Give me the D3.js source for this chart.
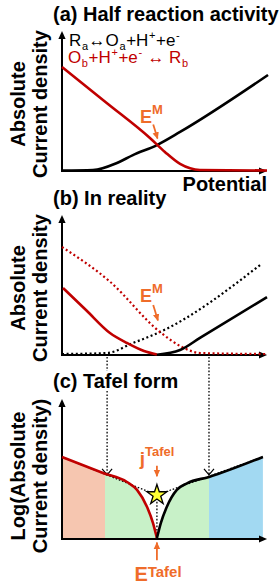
<!DOCTYPE html>
<html>
<head>
<meta charset="utf-8">
<script src="https://cdn.jsdelivr.net/npm/d3@7"></script>
<style>
body { margin: 0; background: #fff; }
svg { display: block; }
text { font-family: "Liberation Sans", Arial, sans-serif; }
</style>
</head>
<body>
<script>
// ---- data (potential 0-100, current 0-100, schematic units) ----
// (a) half reaction activity
const actRed   = [[0,73.8],[21.5,48.6],[42.9,23.4],[50.2,13.5],[57.6,5],[67.3,0.7],[100,0.35]];
const actBlack = [[0,0.35],[15.1,0.7],[26.8,5.7],[34.6,11.3],[46.3,18.4],[57.6,27.7],[100.5,68.1]];
// (b) in reality
const realRedDot   = [[0,76.6],[23.4,52],[47.8,16.3],[58.5,5.7],[67.3,1.4],[100,0.7]];
const realBlackDot = [[0,0.7],[22,1.4],[34.6,8.5],[47.8,16.3],[96.6,63.8]];
const realRed   = [[0.5,47.5],[11.7,31.9],[23.4,15.6],[31.7,8.5],[40,2.8],[46.3,0.4]];
const realBlack = [[46.3,0.2],[57.6,3.5],[67.3,12.1],[100,41.1]];
// (c) tafel form
const tafelRed   = [[0,58.2],[20,46.8],[31.7,40.4],[36.6,34.8],[41.5,22.7],[44.4,11.3],[46.3,0.7]];
const tafelBlack = [[46.3,0.7],[48.2,11.3],[51.1,22.7],[56,34.8],[61,39.5],[71.7,44],[98,58.2]];
const tafelLine  = [[0,58.2],[46.3,31.2],[98,58.2]];
const tafelPoint = [46.3, 31.2];
const bands = [[0,21],[21,71.7],[71.7,98]];
const bandColors = ["#f6c6b0","#c8f1c8","#a2d9f2"];
const guideX = [22, 71.7];
const E_M = { a: [[44.5,33],[46.6,23]], b: [[44.5,35.5],[46.8,24.5]] };

const red = "#c00000", orange = "#ef6c2a";

const svg = d3.select("body").append("svg")
    .attr("width", 280).attr("height", 587);

const x = d3.scaleLinear().domain([0,100]).range([62,267]);
// 3つのパネル（x軸の位置だけ違う）
const yA = d3.scaleLinear().domain([0,100]).range([171,30]);
const yB = d3.scaleLinear().domain([0,100]).range([355,214]);
const yC = d3.scaleLinear().domain([0,100]).range([539,398]);

const defs = svg.append("defs");
defs.append("marker").attr("id","axArrow").attr("viewBox","0 -5 10 10")
    .attr("refX",0).attr("refY",0).attr("markerUnits","userSpaceOnUse")
    .attr("markerWidth",9).attr("markerHeight",9).attr("orient","auto")
    .append("path").attr("d","M0,-4L9,0L0,4Z").attr("fill","#000");
defs.append("marker").attr("id","orArrow").attr("viewBox","0 -5 10 10")
    .attr("refX",8).attr("refY",0).attr("markerUnits","userSpaceOnUse")
    .attr("markerWidth",8).attr("markerHeight",8).attr("orient","auto")
    .append("path").attr("d","M0,-4L9,0L0,4Z").attr("fill",orange);
defs.append("marker").attr("id","vArrow").attr("viewBox","-10 -6 12 12")
    .attr("refX",0).attr("refY",0).attr("markerUnits","userSpaceOnUse")
    .attr("markerWidth",12).attr("markerHeight",12).attr("orient","auto")
    .append("path").attr("d","M-6,-5L0,0L-6,5").attr("fill","none")
    .attr("stroke","#000").attr("stroke-width",1.2);

const curve = (y) => d3.line().x(d => x(d[0])).y(d => y(d[1])).curve(d3.curveMonotoneX);

function drawAxes(y) {
    svg.append("line").attr("x1", x(0)).attr("y1", y(0)+1)
        .attr("x2", x(0)).attr("y2", y(100)+9)
        .attr("stroke","#000").attr("stroke-width",2).attr("marker-end","url(#axArrow)");
    svg.append("line").attr("x1", x(0)-1).attr("y1", y(0))
        .attr("x2", 259).attr("y2", y(0))
        .attr("stroke","#000").attr("stroke-width",2).attr("marker-end","url(#axArrow)");
}

function drawCurve(data, y, color, dotted) {
    svg.append("path").datum(data).attr("d", curve(y))
        .attr("fill","none").attr("stroke",color)
        .attr("stroke-width", dotted ? 2.2 : 2.6)
        .attr("stroke-dasharray", dotted ? "2,2.6" : null);
}

// 上付き・下付きつきテキスト
function richText(g, px, py, parts, opt) {
    const t = g.append("text").attr("x",px).attr("y",py)
        .attr("font-size",opt.size).attr("font-weight",opt.weight || "normal")
        .attr("fill",opt.color).attr("text-anchor",opt.anchor || "start");
    let shift = 0;
    parts.forEach(([s, kind], i) => {
        const target = kind === "sub" ? opt.sub : kind === "sup" ? -opt.sup : 0;
        t.append("tspan").attr("dy", target - shift).attr("dx", i ? (opt.gap || 0) : 0)
            .attr("font-size", kind ? opt.small : opt.size).text(s);
        shift = target;
    });
    return t;
}

function yLabel(lines, cy) {
    lines.forEach((s, i) => {
        svg.append("text").attr("transform", `translate(${25 + i*22},${cy}) rotate(-90)`)
            .attr("text-anchor","middle").attr("font-size",20).attr("font-weight","bold")
            .text(s);
    });
}

function title(s, py) {
    svg.append("text").attr("x",53).attr("y",py).attr("font-size",20).attr("font-weight","bold")
        .attr("stroke","#fff").attr("stroke-width",6).attr("paint-order","stroke")
        .attr("stroke-linejoin","round").text(s);
}

function orangeArrow(p0, p1, y) {
    svg.append("line").attr("x1",x(p0[0])).attr("y1",y(p0[1]))
        .attr("x2",x(p1[0])).attr("y2",y(p1[1]))
        .attr("stroke",orange).attr("stroke-width",1.8).attr("marker-end","url(#orArrow)");
}

// ---------- (c) fills first ----------
const clipIds = bands.map((b, i) => {
    const id = "band" + i;
    defs.append("clipPath").attr("id", id).append("rect")
        .attr("x", x(b[0])).attr("y", yC(100)).attr("width", x(b[1]) - x(b[0]))
        .attr("height", yC(0) - yC(100));
    return id;
});
const areaC = d3.area().x(d => x(d[0])).y0(yC(0)).y1(d => yC(d[1])).curve(d3.curveMonotoneX);
bands.forEach((b, i) => {
    [tafelRed, tafelBlack].forEach(data => {
        svg.append("path").datum(data).attr("d", areaC)
            .attr("fill", bandColors[i]).attr("clip-path", `url(#${clipIds[i]})`);
    });
});

// ---------- guides from (b) to (c) ----------
guideX.forEach(g => {
    svg.append("line").attr("x1",x(g)).attr("y1",yB(0)+2)
        .attr("x2",x(g)).attr("y2",yC(45.5))
        .attr("stroke","#000").attr("stroke-width",1.3).attr("stroke-dasharray","1.6,1.8")
        .attr("marker-end","url(#vArrow)");
});

// ---------- (a) ----------
title("(a) Half reaction activity", 21);
drawAxes(yA);
drawCurve(actBlack, yA, "#000");
drawCurve(actRed, yA, red);
yLabel(["Absolute","Current density"], 104);
svg.append("text").attr("x",267).attr("y",191).attr("text-anchor","end")
    .attr("font-size",20).attr("font-weight","bold").text("Potential");
richText(svg, 69, 46, [["R"],["a","sub"],["\u2194O"],["a","sub"],["+H"],["+","sup"],["+e"],["-","sup"]],
    {size:17, small:11, sub:4, sup:7, gap:0.6, color:"#000"});
richText(svg, 68, 63, [["O"],["b","sub"],["+H"],["+","sup"],["+e"],["-","sup"],[" \u2194 R"],["b","sub"]],
    {size:17, small:11, sub:4, sup:7, gap:0.6, color:red});
richText(svg, 140, 123, [["E"],["M","sup"]], {size:18, small:13, sup:9, weight:"bold", color:orange});
orangeArrow(E_M.a[0], E_M.a[1], yA);

// ---------- (b) ----------
title("(b) In reality", 205);
drawAxes(yB);
drawCurve(realBlackDot, yB, "#000", true);
drawCurve(realRedDot, yB, red, true);
drawCurve(realRed, yB, red);
drawCurve(realBlack, yB, "#000");
yLabel(["Absolute","Current density"], 288);
richText(svg, 140, 302, [["E"],["M","sup"]], {size:18, small:13, sup:9, weight:"bold", color:orange});
orangeArrow(E_M.b[0], E_M.b[1], yB);

// ---------- (c) ----------
title("(c) Tafel form", 388);
drawAxes(yC);
svg.append("path").datum(tafelLine)
    .attr("d", d3.line().x(d => x(d[0])).y(d => yC(d[1])))
    .attr("fill","none").attr("stroke","#000").attr("stroke-width",1.3).attr("stroke-dasharray","1.6,1.8");
svg.append("line").attr("x1",x(tafelPoint[0])).attr("y1",yC(tafelPoint[1]))
    .attr("x2",x(tafelPoint[0])).attr("y2",yC(0))
    .attr("stroke","#000").attr("stroke-width",1.3).attr("stroke-dasharray","1.6,1.8");
drawCurve(tafelRed, yC, red);
drawCurve(tafelBlack, yC, "#000");
svg.append("path").attr("d", d3.symbol(d3.symbolStar, 125)())
    .attr("transform", `translate(${x(tafelPoint[0])},${yC(tafelPoint[1])})`)
    .attr("fill","#ffff33").attr("stroke","#000").attr("stroke-width",1.3);
yLabel(["Log(Absolute","Current density)"], 476);
richText(svg, 157, 465, [["j"],["Tafel","sup"]], {size:19, small:13, sup:9, weight:"bold", color:orange, anchor:"middle"});
orangeArrow([tafelPoint[0], 52], [tafelPoint[0], 44.5], yC);
orangeArrow([tafelPoint[0], -15], [tafelPoint[0], -2.5], yC);
richText(svg, 158, 581, [["E"],["Tafel","sup"]], {size:20, small:15, sup:4, weight:"bold", color:orange, anchor:"middle"});
</script>
</body>
</html>
